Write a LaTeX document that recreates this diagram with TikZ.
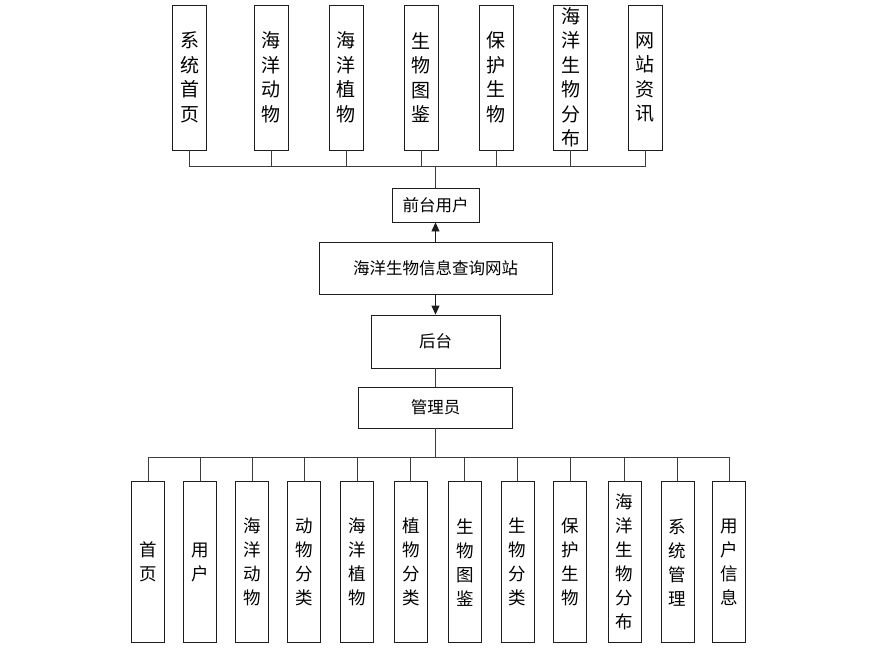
\documentclass[tikz,border=0pt]{standalone}
\usepackage{fontspec}
\newfontfamily\cjk{Noto Sans CJK SC}
\usepackage{xcolor}
\definecolor{siteInk}{RGB}{30,30,30}
\definecolor{siteWire}{RGB}{60,60,60}
\usepackage{tikz}
\usetikzlibrary{positioning,arrows.meta,calc}

\begin{document}
\begin{tikzpicture}[x=1pt,y=-1pt,
  box/.style={draw=siteInk,line width=0.8pt,fill=white,align=center,inner sep=0pt,
    font=\cjk\fontsize{16.5pt}{20pt}\selectfont},
  topcol/.style={box,minimum width=34pt,minimum height=145pt,font=\cjk\fontsize{19pt}{24.5pt}\selectfont},
  botcol/.style={box,minimum width=33pt,minimum height=161pt,font=\cjk\fontsize{17.5pt}{24pt}\selectfont},
  w/.style={siteWire,line width=0.8pt},
  a/.style={-{Triangle[length=9pt,width=8pt]},siteInk,line width=0.8pt}]
  \useasboundingbox (0,0) rectangle (880,653);

  % front-end columns
  \node[topcol] (home) at (189.5,77.5) {系\\统\\首\\页};
  \node[topcol] (animal) at (271,77.5) {海\\洋\\动\\物};
  \node[topcol] (plant) at (346,77.5) {海\\洋\\植\\物};
  \node[topcol] (atlas) at (421,77.5) {生\\物\\图\\鉴};
  \node[topcol] (protect) at (496,77.5) {保\\护\\生\\物};
  \node[topcol] (distrib) at (570.5,77.5) {海\\洋\\生\\物\\分\\布};
  \node[topcol] (news) at (645,77.5) {网\\站\\资\\讯};

  % middle chain
  \node[box,minimum width=87pt,minimum height=34pt] (front) at (435.5,205) {前台用户};
  \node[box,minimum width=233pt,minimum height=52pt] (site) at (435.5,268) {海洋生物信息查询网站};
  \node[box,minimum width=129pt,minimum height=53pt] (back) at (435.5,341.5) {后台};
  \node[box,minimum width=154pt,minimum height=41pt] (admin) at (435.5,407.5) {管理员};

  % back-end columns
  \node[botcol] (bhome) at (148.3,562.2) {首\\页};
  \node[botcol] (buser) at (200.2,562.2) {用\\户};
  \node[botcol] (banimal) at (252,562.2) {海\\洋\\动\\物};
  \node[botcol] (banicat) at (304.2,562.2) {动\\物\\分\\类};
  \node[botcol] (bplant) at (357,562.2) {海\\洋\\植\\物};
  \node[botcol] (bplacat) at (410.8,562.2) {植\\物\\分\\类};
  \node[botcol] (batlas) at (464.8,562.2) {生\\物\\图\\鉴};
  \node[botcol] (bbiocat) at (517.7,562.2) {生\\物\\分\\类};
  \node[botcol] (bprotect) at (570.3,562.2) {保\\护\\生\\物};
  \node[botcol] (bdistrib) at (624.7,562.2) {海\\洋\\生\\物\\分\\布};
  \node[botcol] (bsys) at (677.7,562.2) {系\\统\\管\\理};
  \node[botcol] (binfo) at (729.2,562.2) {用\\户\\信\\息};

  \coordinate (topbus) at (435.5,166.7);
  \coordinate (botbus) at (435.5,457.3);

  \draw[w] (front.north) -- (topbus);
  \draw[w] (topbus) -| (home.south);
  \draw[w] (topbus) -| (animal.south);
  \draw[w] (topbus) -| (plant.south);
  \draw[w] (topbus) -| (atlas.south);
  \draw[w] (topbus) -| (protect.south);
  \draw[w] (topbus) -| (distrib.south);
  \draw[w] (topbus) -| (news.south);

  \draw[a] (site.north) -- (front.south);
  \draw[a] (site.south) -- (back.north);
  \draw[w] (back.south) -- (admin.north);
  \draw[w] (admin.south) -- (botbus);

  \draw[w] (botbus) -| (bhome.north);
  \draw[w] (botbus) -| (buser.north);
  \draw[w] (botbus) -| (banimal.north);
  \draw[w] (botbus) -| (banicat.north);
  \draw[w] (botbus) -| (bplant.north);
  \draw[w] (botbus) -| (bplacat.north);
  \draw[w] (botbus) -| (batlas.north);
  \draw[w] (botbus) -| (bbiocat.north);
  \draw[w] (botbus) -| (bprotect.north);
  \draw[w] (botbus) -| (bdistrib.north);
  \draw[w] (botbus) -| (bsys.north);
  \draw[w] (botbus) -| (binfo.north);
\end{tikzpicture}
\end{document}
